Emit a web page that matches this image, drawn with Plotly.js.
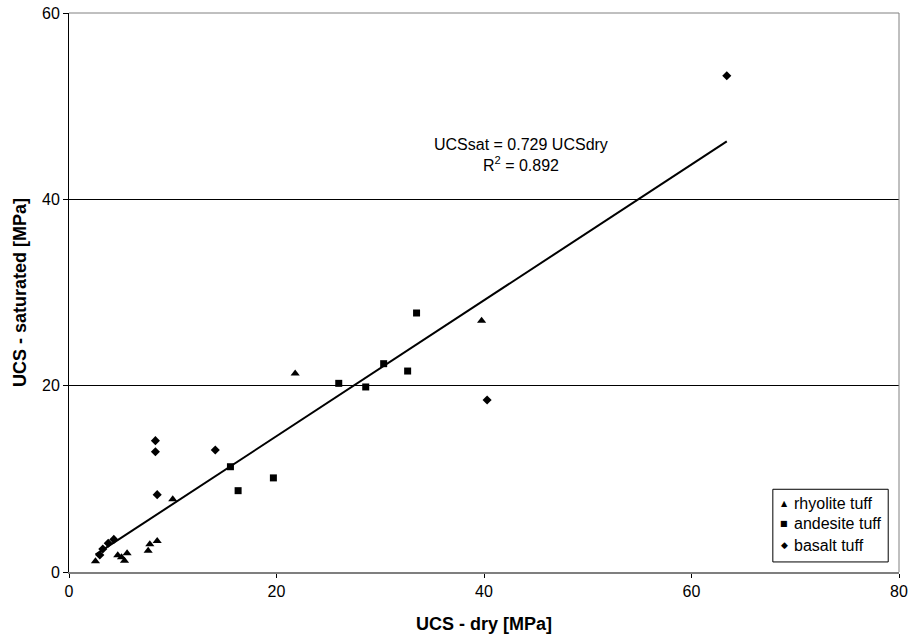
<!DOCTYPE html>
<html>
<head>
<meta charset="utf-8">
<script src="https://cdn.plot.ly/plotly-3.0.1.min.js"></script>
<style>html,body{margin:0;padding:0;background:#fff;}#chart{width:911px;height:640px;}</style>
</head>
<body>
<div id="chart"></div>
<script>
// Data
const rhyoliteX = [2.55, 4.7, 5.06, 5.35, 5.6, 7.63, 7.79, 8.5, 10.0, 21.8, 39.77];
const rhyoliteY = [1.15, 1.79, 1.57, 1.21, 2.0, 2.29, 2.97, 3.33, 7.8, 21.3, 26.97];
const andesiteX = [15.56, 16.3, 19.7, 26.0, 28.6, 30.33, 32.64, 33.5];
const andesiteY = [11.3, 8.73, 10.1, 20.25, 19.86, 22.36, 21.57, 27.8];
const basaltX = [2.97, 3.26, 3.78, 4.32, 8.33, 8.33, 8.5, 14.1, 40.3, 63.4];
const basaltY = [1.82, 2.47, 3.08, 3.5, 14.1, 12.9, 8.3, 13.1, 18.46, 53.27];
const seriesNames = ["rhyolite tuff", "andesite tuff", "basalt tuff"];
const legendGlyphs = ["\u25B2", "\u25A0", "\u25C6"];
const slope = 0.729;
const r2 = 0.892;
const xTicks = [0, 20, 40, 60, 80];
const yTicks = [0, 20, 40, 60];

const allX = rhyoliteX.concat(andesiteX, basaltX);
const xMin = Math.min(...allX), xMax = Math.max(...allX);

const font = "Liberation Sans, Arial, sans-serif";

const traces = [
  {x: [xMin, xMax], y: [slope * xMin, slope * xMax], mode: "lines", line: {color: "#000", width: 2}, showlegend: false, hoverinfo: "skip"},
  {x: rhyoliteX, y: rhyoliteY, mode: "markers", name: seriesNames[0], marker: {symbol: "triangle-up", size: 8, color: "#000"}},
  {x: andesiteX, y: andesiteY, mode: "markers", name: seriesNames[1], marker: {symbol: "square", size: 7, color: "#000"}},
  {x: basaltX, y: basaltY, mode: "markers", name: seriesNames[2], marker: {symbol: "diamond", size: 7, color: "#000"}}
];

// custom legend (box + entries), matching the compact spreadsheet legend
const legY = [0.123, 0.0859, 0.0483];
const legendAnn = [];
seriesNames.forEach((n, i) => {
  legendAnn.push({xref: "paper", yref: "paper", x: 0.862, y: legY[i], xanchor: "center", yanchor: "middle",
    text: legendGlyphs[i], showarrow: false, font: {family: "DejaVu Sans", size: i === 2 ? 9 : 8, color: "#000"}});
  legendAnn.push({xref: "paper", yref: "paper", x: 0.871, y: legY[i], xanchor: "left", yanchor: "middle",
    text: n, showarrow: false, font: {family: font, size: 16, color: "#000"}});
});

const layout = {
  width: 911, height: 640,
  margin: {l: 69, r: 12, t: 13, b: 68},
  paper_bgcolor: "#fff", plot_bgcolor: "#fff",
  font: {family: font, size: 16, color: "#000"},
  showlegend: false,
  xaxis: {
    range: [0, 80], tickvals: xTicks, ticktext: xTicks.map(String),
    showgrid: false, zeroline: false,
    showline: true, linecolor: "#7f7f7f", linewidth: 2,
    ticks: "outside", ticklen: 4, tickcolor: "#000", tickwidth: 1,
    tickfont: {family: font, size: 16},
    title: {text: "<b>UCS - dry [MPa]</b>", font: {family: font, size: 18}, standoff: 18}
  },
  yaxis: {
    range: [0, 60], tickvals: yTicks, ticktext: yTicks.map(String),
    showgrid: true, gridcolor: "#000", gridwidth: 1, zeroline: false,
    showline: true, linecolor: "#000", linewidth: 1,
    ticks: "outside", ticklen: 5, tickcolor: "#000", tickwidth: 1,
    tickfont: {family: font, size: 16},
    title: {text: "<b>UCS - saturated [MPa]</b>", font: {family: font, size: 18}, standoff: 10}
  },
  shapes: [
    {type: "line", xref: "paper", yref: "paper", x0: 0, x1: 1, y0: 1, y1: 1, line: {color: "#808080", width: 1}},
    {type: "line", xref: "paper", yref: "paper", x0: 1, x1: 1, y0: 0, y1: 1, line: {color: "#808080", width: 1}},
    {type: "rect", xref: "paper", yref: "paper", x0: 0.848, x1: 0.987, y0: 0.018, y1: 0.148,
     line: {color: "#000", width: 1}, fillcolor: "#fff", layer: "above"}
  ],
  annotations: [
    {x: 43.6, y: 44.8, xref: "x", yref: "y", showarrow: false,
     text: "UCSsat = " + slope.toFixed(3) + " UCSdry<br>R<sup>2</sup> = " + r2.toFixed(3),
     font: {family: font, size: 16, color: "#000"}, align: "center"}
  ].concat(legendAnn)
};

Plotly.newPlot("chart", traces, layout, {staticPlot: true});
</script>
</body>
</html>
